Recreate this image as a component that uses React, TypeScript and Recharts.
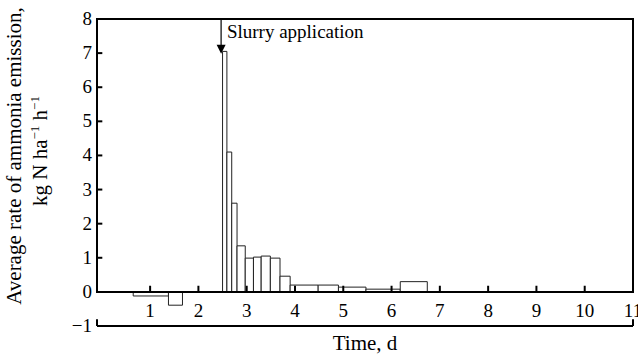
import React from 'react';
import {
  ComposedChart,
  Line,
  XAxis,
  YAxis,
  ReferenceArea,
  ReferenceLine,
  ReferenceDot,
  Label,
} from 'recharts';

const FONT = "'Liberation Serif', 'Times New Roman', Times, serif";
const textStyle = { fontFamily: FONT };

// sampling periods after the start of the trial (days) and the mean rate over each
const periodStart = [0.65, 1.38, 2.5, 2.59, 2.69, 2.8, 2.97, 3.14, 3.3, 3.49, 3.69, 3.9, 4.48, 4.9, 5.47, 6.18];
const periodEnd = [1.38, 1.67, 2.59, 2.69, 2.8, 2.97, 3.14, 3.3, 3.49, 3.69, 3.9, 4.48, 4.9, 5.47, 6.18, 6.74];
const periodRate = [-0.12, -0.39, 7.05, 4.1, 2.6, 1.35, 0.99, 1.02, 1.05, 0.99, 0.46, 0.2, 0.2, 0.14, 0.08, 0.3];

const dayTicks = [1, 2, 3, 4, 5, 6, 7, 8, 9, 10, 11];
const rateTicks = [-1, 0, 1, 2, 3, 4, 5, 6, 7, 8];

const X_MIN = -0.1;
const X_MAX = 11;
const SLURRY_DAY = 2.47;

const periods = periodStart.map((start, i) => ({
  start,
  end: periodEnd[i],
  t: (start + periodEnd[i]) / 2,
  rate: periodRate[i],
}));

const DayTick = ({ x, y, payload }: any) => (
  <text x={x} y={y - 9} textAnchor="middle" style={textStyle} fontSize={19} fill="#000">
    {payload.value}
  </text>
);

const RateTick = ({ x, y, payload }: any) => (
  <text x={x} y={y + 6} textAnchor="end" style={textStyle} fontSize={19} fill="#000">
    {payload.value < 0 ? `−${Math.abs(payload.value)}` : payload.value}
  </text>
);

const RateTitle = () => (
  <g style={textStyle} fontSize={21} fill="#000">
    <text x={21} y={156} textAnchor="middle" transform="rotate(-90 21 156)">
      Average rate of ammonia emission,
    </text>
    <text x={47} y={151} textAnchor="middle" transform="rotate(-90 47 151)">
      kg N ha
      <tspan fontSize={13} dy={-8}>−1</tspan>
      <tspan dy={8}> h</tspan>
      <tspan fontSize={13} dy={-8}>−1</tspan>
    </text>
  </g>
);

const ArrowHead = ({ cx, cy }: any) => (
  <path d={`M${cx - 4.5},${cy - 9} L${cx + 4.5},${cy - 9} L${cx},${cy} Z`} fill="#000" />
);

const SlurryText = ({ cx, cy }: any) => (
  <text x={cx} y={cy} style={textStyle} fontSize={19} fill="#000">
    Slurry application
  </text>
);

export default function App() {
  return (
    <div style={{ position: 'absolute', left: 0, top: 0, background: '#fff' }}>
      <ComposedChart
        width={638}
        height={357}
        data={periods}
        margin={{ top: 19, right: 5, bottom: 1, left: 0 }}
      >
        <XAxis
          type="number"
          dataKey="t"
          domain={[X_MIN, X_MAX]}
          ticks={dayTicks}
          interval={0}
          height={30}
          tickSize={0}
          tickMargin={0}
          tick={<DayTick />}
          axisLine={{ stroke: '#000', strokeWidth: 2 }}
          tickLine={false}
        >
          <Label
            value="Time, d"
            position="insideBottom"
            offset={6}
            style={textStyle}
            fontSize={21}
            fill="#000"
          />
        </XAxis>
        <YAxis
          type="number"
          domain={[-1, 8]}
          ticks={rateTicks}
          interval={0}
          width={97}
          tickSize={0}
          tickMargin={5}
          axisLine={false}
          tickLine={false}
          tick={<RateTick />}
          label={{ content: <RateTitle /> }}
        />

        {periods.map((p, i) => (
          <ReferenceArea
            key={`p${i}`}
            x1={p.start}
            x2={p.end}
            y1={Math.min(0, p.rate)}
            y2={Math.max(0, p.rate)}
            fill="#fff"
            fillOpacity={1}
            stroke="#222"
            strokeWidth={1}
          />
        ))}

        {/* plot frame, its bottom edge is the zero line */}
        <ReferenceArea
          x1={X_MIN}
          x2={X_MAX}
          y1={0}
          y2={8}
          fill="none"
          stroke="#000"
          strokeWidth={2}
        />

        {/* inward ticks on the left side and on the zero line */}
        {rateTicks
          .filter((v) => v > 0 && v < 8)
          .map((v) => (
            <ReferenceLine
              key={`yt${v}`}
              segment={[{ x: X_MIN, y: v }, { x: X_MIN + 0.11, y: v }]}
              stroke="#000"
              strokeWidth={2}
            />
          ))}
        {dayTicks
          .filter((d) => d < X_MAX)
          .map((d) => (
            <ReferenceLine
              key={`xt${d}`}
              segment={[{ x: d, y: 0 }, { x: d, y: 0.18 }]}
              stroke="#000"
              strokeWidth={2}
            />
          ))}
        <ReferenceLine segment={[{ x: X_MIN, y: -1 }, { x: X_MIN, y: -0.8 }]} stroke="#000" strokeWidth={2} />
        <ReferenceLine segment={[{ x: X_MAX, y: -1 }, { x: X_MAX, y: -0.8 }]} stroke="#000" strokeWidth={2} />

        {/* application marker */}
        <ReferenceLine segment={[{ x: SLURRY_DAY, y: 8 }, { x: SLURRY_DAY, y: 7.2 }]} stroke="#000" strokeWidth={1.2} />
        <ReferenceDot x={SLURRY_DAY} y={6.98} r={0} shape={<ArrowHead />} />
        <ReferenceDot x={2.59} y={7.45} r={0} shape={<SlurryText />} />

        <Line
          type="linear"
          dataKey="rate"
          stroke="none"
          dot={false}
          activeDot={false}
          isAnimationActive={false}
        />
      </ComposedChart>
    </div>
  );
}
